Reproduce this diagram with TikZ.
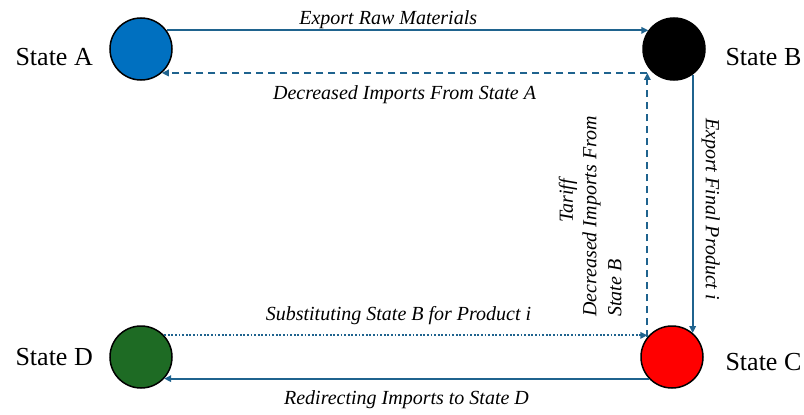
\documentclass[tikz,border=0pt]{standalone}
\usepackage{fontspec}
\setmainfont{Liberation Serif}
\usetikzlibrary{arrows.meta}
\definecolor{flowblue}{RGB}{31,99,142}
\definecolor{stateblue}{RGB}{0,112,192}
\definecolor{stategreen}{RGB}{30,107,36}
\begin{document}
\begin{tikzpicture}[x=1pt,y=-1pt,
  state/.style={circle,draw=black,line width=1.5pt,minimum size=62pt,inner sep=0pt},
  statename/.style={font=\fontsize{26}{30}\selectfont,anchor=base west},
  lbl/.style={font=\fontsize{20}{25}\selectfont\itshape,inner sep=1pt},
  flow/.style={draw=flowblue,line width=1.8pt,-{Triangle[length=7pt,width=6.5pt]}},
  dashflow/.style={flow,dash pattern=on 7pt off 5pt},
  dotflow/.style={flow,dash pattern=on 1.8pt off 1.8pt}]
\useasboundingbox (0,0) rectangle (804,415);
\node[state,fill=stateblue] (A) at (141,49) {};
\node[state,fill=black] (B) at (674,49) {};
\node[state,fill=red] (C) at (672,357) {};
\node[state,fill=stategreen] (D) at (141,357) {};
\node[statename] (nameA) at (12,65) {State A};
\node[statename] (nameB) at (722,65) {State B};
\node[statename] (nameC) at (722,370) {State C};
\node[statename] (nameD) at (12,365) {State D};
\draw[flow] (A.36) -- (B.144) node[lbl,above,pos=0.46] (rawlbl) {Export Raw Materials};
\draw[dashflow] (B.229 -| C.141) -- (A.-49) node[lbl,below=11pt,midway] (declblA) {Decreased Imports From State A};
\draw[dashflow] (C.141) -- (C.141 |- B.229);
\draw[flow] (B.-54) -- (B.-54 |- C.49) node[lbl,rotate=-90,anchor=south,outer sep=8pt,pos=0.52] (finallbl) {Export Final Product i};
\draw[dotflow] (D.43) -- (D.43 -| C.141) node[lbl,above=9pt,pos=0.485] (sublbl) {Substituting State B for Product i};
\draw[flow] (C.223) -- (D.-43) node[lbl,below=10pt,midway] (redirlbl) {Redirecting Imports to State D};
\node[lbl,rotate=90] (tarifflbl) at (568,201) {Tariff};
\node[lbl,rotate=90,anchor=west,align=left] (declblB) at (602,318) {Decreased Imports From\\State B};
\end{tikzpicture}
\end{document}
